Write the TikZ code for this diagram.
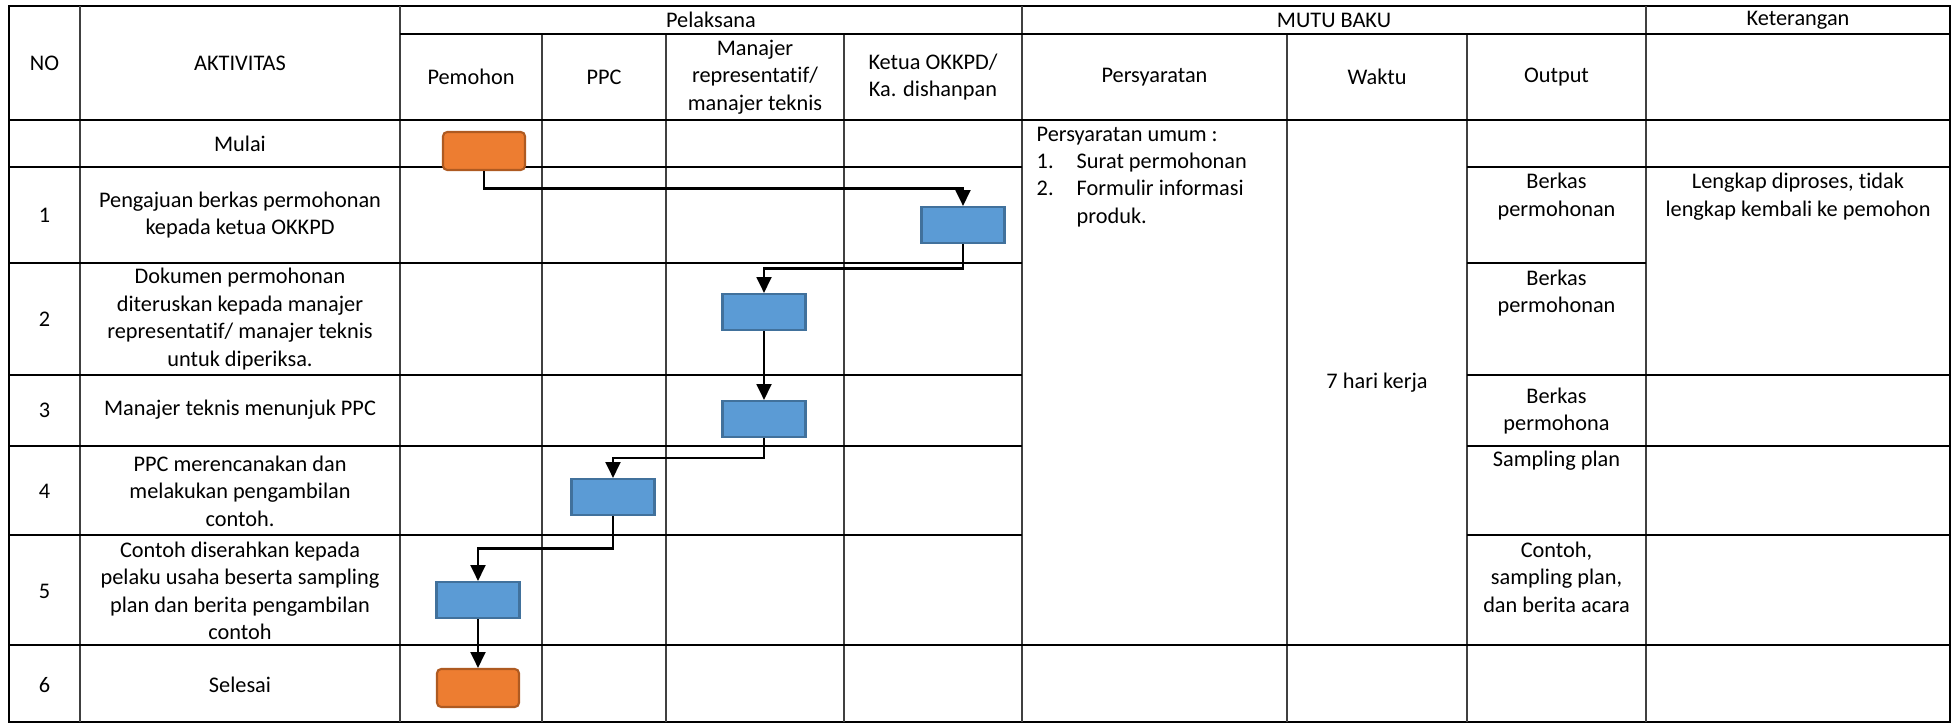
\documentclass[tikz,border=0pt]{standalone}
\usepackage{fontspec}
\setmainfont{Carlito}[Ligatures=NoCommon]
\usetikzlibrary{arrows.meta,calc}

\definecolor{startorange}{HTML}{ED7D31}
\definecolor{startedge}{HTML}{AE5A21}
\definecolor{stepblue}{HTML}{5B9BD5}
\definecolor{stepedge}{HTML}{41719C}

\tikzset{
  thickrule/.style={line width=0.6pt},
  thinrule/.style={line width=0.35pt},
  colrule/.style={line width=0.35pt, black!75},
  terminal/.style={draw=startedge, fill=startorange, line width=0.6pt, rounded corners=1.2pt,
    minimum width=0.82cm, minimum height=0.38cm, inner sep=0pt},
  process/.style={draw=stepedge, fill=stepblue, line width=0.6pt,
    minimum width=0.83cm, minimum height=0.36cm, inner sep=0pt},
  flow/.style={line width=0.75pt, -{Triangle[length=4.5pt,width=4.2pt]}},
  cell/.style={align=center, inner sep=0pt},
}

\begin{document}
\begin{tikzpicture}[font=\fontsize{6.35}{7.8}\selectfont]
    \useasboundingbox (0,0) rectangle (19.54,7.24);

    % table frame
    \draw[line width=0.7pt] (0.09,0.02) rectangle (19.50,7.18);

    % columns
    \draw[colrule] (0.80,0.02) -- (0.80,7.18);
    \draw[colrule] (4.00,0.02) -- (4.00,7.18);
    \draw[colrule] (5.42,0.02) -- (5.42,6.90);
    \draw[colrule] (6.66,0.02) -- (6.66,6.90);
    \draw[colrule] (8.44,0.02) -- (8.44,6.90);
    \draw[colrule] (10.22,0.02) -- (10.22,7.18);
    \draw[colrule] (12.87,0.02) -- (12.87,6.90);
    \draw[colrule] (14.67,0.02) -- (14.67,6.90);
    \draw[colrule] (16.46,0.02) -- (16.46,7.18);

    % rows
    \draw[thickrule] (4.00,6.90) -- (19.50,6.90);
    \draw[thickrule] (0.09,6.04) -- (19.50,6.04);
    \draw[thickrule] (0.09,5.57) -- (10.22,5.57);
    \draw[thickrule] (14.67,5.57) -- (19.50,5.57);
    \draw[thickrule] (0.09,4.61) -- (10.22,4.61);
    \draw[thickrule] (14.67,4.61) -- (16.46,4.61);
    \draw[thickrule] (0.09,3.49) -- (10.22,3.49);
    \draw[thickrule] (14.67,3.49) -- (19.50,3.49);
    \draw[thinrule] (0.09,2.78) -- (10.22,2.78);
    \draw[thinrule] (14.67,2.78) -- (19.50,2.78);
    \draw[thickrule] (0.09,1.89) -- (10.22,1.89);
    \draw[thickrule] (14.67,1.89) -- (19.50,1.89);
    \draw[thinrule] (0.09,0.79) -- (19.50,0.79);

    % header
    \node[cell] (no) at (0.445,6.61) {NO};
    \node[cell] (aktivitas) at (2.40,6.61) {AKTIVITAS};
    \node[cell] (pelaksana) at (7.11,7.04) {Pelaksana};
    \node[cell] (mutubaku) at (13.34,7.04) {MUTU BAKU};
    \node[cell] (keterangan) at (17.98,7.04) {Keterangan};
    \node[cell] (pemohon) at (4.71,6.47) {Pemohon};
    \node[cell] (ppc) at (6.04,6.47) {PPC};
    \node[cell] (manajer) at (7.55,6.47) {Manajer\\representatif/\\manajer teknis};
    \node[cell] (ketua) at (9.33,6.47) {Ketua OKKPD/\\Ka. dishanpan};
    \node[cell] (persyaratan) at (11.545,6.47) {Persyaratan};
    \node[cell] (waktu) at (13.77,6.47) {Waktu};
    \node[cell] (output) at (15.565,6.47) {Output};

    % numbers and activities
    \node[cell] (akt0) at (2.40,5.80) {Mulai};
    \node[cell] (n1) at (0.445,5.09) {1};
    \node[cell] (akt1) at (2.40,5.09) {Pengajuan berkas permohonan\\kepada ketua OKKPD};
    \node[cell] (n2) at (0.445,4.05) {2};
    \node[cell] (akt2) at (2.40,4.05) {Dokumen permohonan\\diteruskan kepada manajer\\representatif/ manajer teknis\\untuk diperiksa.};
    \node[cell] (n3) at (0.445,3.14) {3};
    \node[cell] (akt3) at (2.40,3.14) {Manajer teknis menunjuk PPC};
    \node[cell] (n4) at (0.445,2.33) {4};
    \node[cell] (akt4) at (2.40,2.33) {PPC merencanakan dan\\melakukan pengambilan\\contoh.};
    \node[cell] (n5) at (0.445,1.33) {5};
    \node[cell] (akt5) at (2.40,1.33) {Contoh diserahkan kepada\\pelaku usaha beserta sampling\\plan dan berita pengambilan\\contoh};
    \node[cell] (n6) at (0.445,0.39) {6};
    \node[cell] (akt6) at (2.40,0.39) {Selesai};

    % mutu baku
    \node[align=left, inner sep=0pt, anchor=north west] (syarat) at (10.36,5.98)
      {Persyaratan umum :\\
       \makebox[0.40cm][l]{1.}Surat permohonan\\
       \makebox[0.40cm][l]{2.}Formulir informasi\\
       \makebox[0.40cm][l]{}produk.};
    \node[cell] (hari) at (13.77,3.41) {7 hari kerja};
    \node[cell] (out1) at (15.565,5.275) {Berkas\\permohonan};
    \node[cell] (out2) at (15.565,4.31) {Berkas\\permohonan};
    \node[cell] (out3) at (15.565,3.13) {Berkas\\permohona};
    \node[cell] (out4) at (15.565,2.63) {Sampling plan};
    \node[cell] (out5) at (15.565,1.47) {Contoh,\\sampling plan,\\dan berita acara};
    \node[cell] (ket1) at (17.98,5.275) {Lengkap diproses, tidak\\lengkap kembali ke pemohon};

    % flow
    \node[terminal] (mulai) at (4.84,5.73) {};
    \node[process] (ajukan) at (9.63,4.99) {};
    \node[process] (teruskan) at (7.64,4.12) {};
    \node[process] (tunjuk) at (7.64,3.05) {};
    \node[process] (ambil) at (6.13,2.27) {};
    \node[process] (serah) at (4.78,1.24) {};
    \node[terminal] (selesai) at (4.78,0.36) {};

    \draw[flow] (mulai.south) |- ($(mulai.south)!.5!(ajukan.north)$) -| (ajukan.north);
    \draw[flow] (ajukan.south) |- ($(ajukan.south)!.5!(teruskan.north)$) -| (teruskan.north);
    \draw[flow] (teruskan) -- (tunjuk);
    \draw[flow] (tunjuk.south) |- ($(tunjuk.south)!.5!(ambil.north)$) -| (ambil.north);
    \draw[flow] (ambil.south) |- ($(ambil.south)!.5!(serah.north)$) -| (serah.north);
    \draw[flow] (serah) -- (selesai);
\end{tikzpicture}
\end{document}
